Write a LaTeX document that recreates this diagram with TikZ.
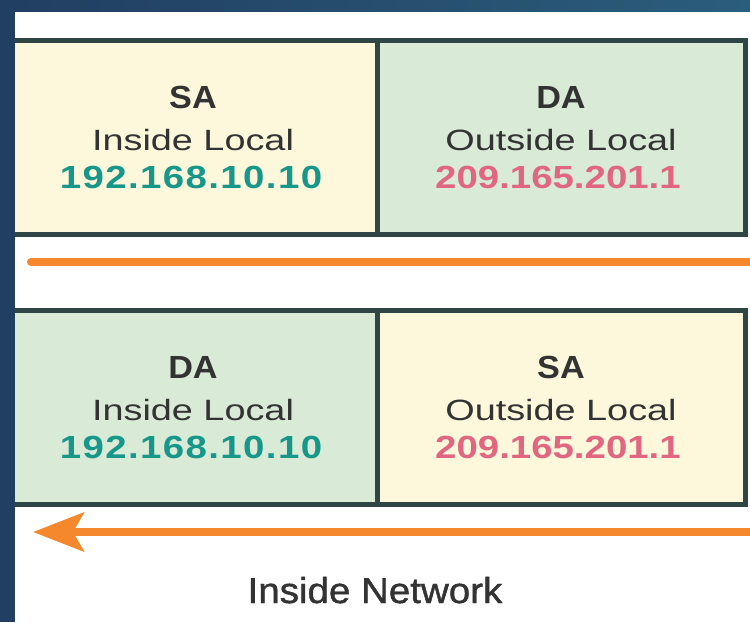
\documentclass[tikz,border=0pt]{standalone}
\usepackage{fontspec}
\setmainfont{Liberation Sans}
\newfontfamily\headfont[FakeStretch=1.07]{Liberation Sans}
\newfontfamily\netfont[FakeStretch=1.07,FakeBold=1.2]{Liberation Sans}
\newfontfamily\localfont[FakeStretch=1.29]{Liberation Sans}
\newfontfamily\addrfont[FakeStretch=1.2]{Liberation Sans}
\newfontfamily\addrwidefont[FakeStretch=1.2,LetterSpace=4.4]{Liberation Sans}
\usetikzlibrary{arrows.meta}
\definecolor{frameblue}{HTML}{213F62}
\definecolor{frameteal}{HTML}{2B5D7C}
\definecolor{cellyellow}{HTML}{FDF8DC}
\definecolor{cellgreen}{HTML}{D9EAD7}
\definecolor{cellline}{HTML}{2F4644}
\definecolor{insidecol}{HTML}{17968A}
\definecolor{outsidecol}{HTML}{E0677F}
\definecolor{flow}{HTML}{F5872C}
\definecolor{ink}{HTML}{333333}
\tikzset{
    cell/.style ={
        shape=rectangle,
        draw=cellline,
        line width=3.75pt,
        minimum width=276pt,
        minimum height=145.5pt,
        inner sep=0pt
    },
    yellowcell/.style ={cell, fill=cellyellow},
    greencell/.style ={cell, fill=cellgreen},
    head/.style ={
        anchor=base,
        text=ink,
        font=\headfont\bfseries\fontsize{24pt}{28pt}\selectfont
    },
    local/.style ={
        anchor=base,
        text=ink,
        font=\localfont\fontsize{22pt}{26pt}\selectfont
    },
    inaddr/.style ={
        anchor=base,
        text=insidecol,
        font=\addrwidefont\bfseries\fontsize{24pt}{28pt}\selectfont
    },
    outaddr/.style ={
        anchor=base,
        text=outsidecol,
        font=\addrfont\bfseries\fontsize{24pt}{28pt}\selectfont
    },
    flowline/.style ={
        draw=flow,
        line width=6pt,
        line cap=round
    }
}

\begin{document}
\begin{tikzpicture}[x=0.75pt,y=-0.75pt]
    \useasboundingbox (0,0) rectangle (750,622);
    \fill[white] (0,0) rectangle (750,622);
    % outgoing packet
    \node[yellowcell] (sa1) at (193,137.5) {};
    \node[greencell] (da1) at (561,137.5) {};
    \node[head] (sa1h) at (193,108) {SA};
    \node[local] (sa1l) at (193,150) {Inside Local};
    \node[inaddr] (sa1a) at (191,188) {192.168.10.10};
    \node[head] (da1h) at (561,108) {DA};
    \node[local] (da1l) at (561,150) {Outside Local};
    \node[outaddr] (da1a) at (558,188) {209.165.201.1};
    \coordinate (out1) at (31,262);
    \coordinate (out2) at (750,262);
    \draw[flowline] (out1) -- (out2);
    % returning packet
    \node[greencell] (da2) at (193,407.5) {};
    \node[yellowcell] (sa2) at (561,407.5) {};
    \node[head] (da2h) at (193,378) {DA};
    \node[local] (da2l) at (193,420) {Inside Local};
    \node[inaddr] (da2a) at (191,458) {192.168.10.10};
    \node[head] (sa2h) at (561,378) {SA};
    \node[local] (sa2l) at (561,420) {Outside Local};
    \node[outaddr] (sa2a) at (558,458) {209.165.201.1};
    \coordinate (in1) at (750,532);
    \coordinate (in2) at (33,532);
    \draw[flowline,-{Stealth[length=38pt,width=29pt,inset=8pt]}] (in1) -- (in2);
    \node[anchor=base, text=ink, font=\netfont\fontsize{27pt}{31pt}\selectfont] (net) at (375,603) {Inside Network};
    % frame
    \fill[frameblue] (0,0) rectangle (15,622);
    \shade[left color=frameblue, right color=frameteal] (15,0) rectangle (750,11);
\end{tikzpicture}
\end{document}
